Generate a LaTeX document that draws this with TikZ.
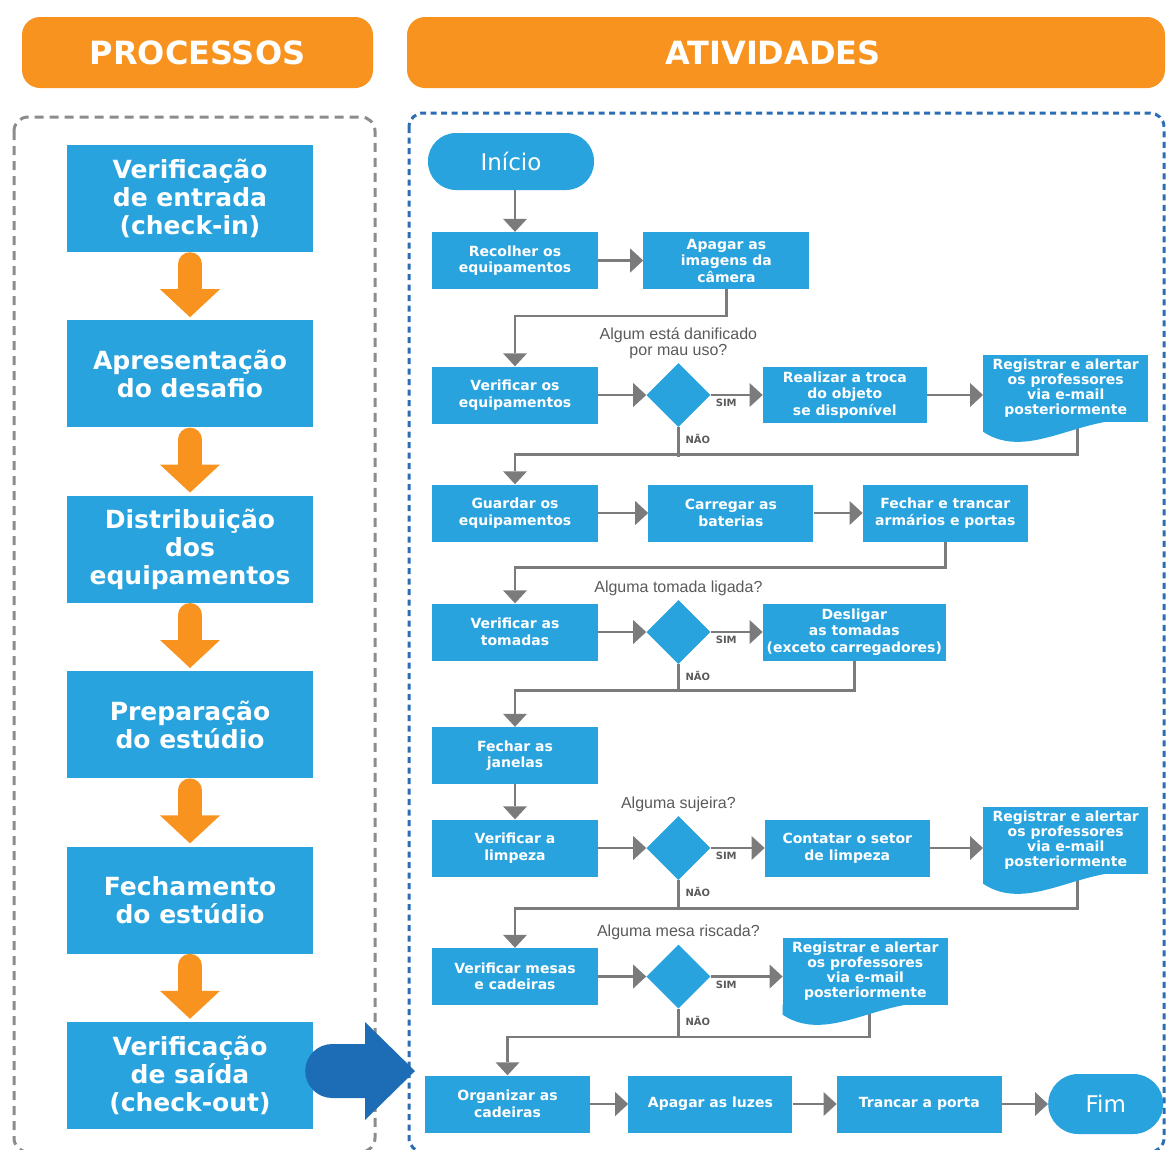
\documentclass[tikz,border=0pt]{standalone}
\usepackage{fontspec}
\setmainfont{DejaVu Sans}
\newfontfamily\qfont{Liberation Sans}
\usetikzlibrary{positioning}
\usetikzlibrary{shapes}
\usetikzlibrary{arrows.meta}
\usetikzlibrary{backgrounds}

\definecolor{boxblue}{HTML}{29A3DE}
\definecolor{darkblue}{HTML}{1D6CB6}
\definecolor{orng}{HTML}{F7931E}
\definecolor{lgrey}{HTML}{7B7B7B}
\definecolor{fgrey}{HTML}{8C8C8C}
\definecolor{fblue}{HTML}{2C6DB3}
\definecolor{tgrey}{HTML}{5A5A5A}

% wavy bottom of the document shapes
\newcommand{\docwave}[1]{%
  \fill[boxblue] (#1.south west) -- ([yshift=-10pt]#1.south west)
    .. controls ([xshift=48pt,yshift=-42pt]#1.south west) and ([xshift=-62pt,yshift=13pt]#1.south east) .. (#1.south east) -- cycle;}

\begin{document}
\begin{tikzpicture}[x=1pt, y=-1pt,
		hd/.style={fill=orng, rounded corners=18pt, text=white, minimum height=71pt, inner sep=0pt, font=\bfseries\fontsize{32}{36}\selectfont},
		proc/.style={fill=boxblue, text=white, align=center, minimum width=246pt, minimum height=107pt, inner sep=0pt, font=\bfseries\fontsize{25}{28}\selectfont},
		box/.style={fill=boxblue, text=white, align=center, minimum width=166pt, minimum height=57pt, inner sep=0pt, font=\bfseries\fontsize{14}{16.5}\selectfont},
		term/.style={box, rounded corners=28pt, font=\fontsize{23}{26}\selectfont},
		dec/.style={diamond, fill=boxblue, minimum width=64pt, minimum height=64pt, inner sep=0pt},
		doc/.style={box, minimum width=165pt, minimum height=67pt, font=\bfseries\fontsize{14}{15}\selectfont},
		lbl/.style={text=tgrey, align=center, inner sep=1pt, font=\qfont\fontsize{16}{15.5}\selectfont},
		yn/.style={text=tgrey, inner sep=1pt, font=\bfseries\fontsize{10}{12}\selectfont},
		ln/.style={draw=lgrey, line width=2.5pt},
		a/.style={ln, -{Triangle[length=13pt,width=24pt,line width=0pt]}},
		oa/.style={orng, line width=24pt, line cap=round, -{Triangle[length=28pt,width=60pt,line width=0pt]}},
	]
		\useasboundingbox (0,0) rectangle (1166,1149);
		\clip (0,0) rectangle (1166,1149);

		% frames and headers
		\draw[fgrey, line width=3pt, dash pattern=on 9pt off 6pt, rounded corners=14pt] (14,117) rectangle (375,1152);
		\draw[fblue, line width=3pt, dash pattern=on 6pt off 4.5pt, rounded corners=14pt] (409,113) rectangle (1164,1152);
		\node[hd, minimum width=351pt] (hproc) at (197.5,52.5) {PROCESSOS};
		\node[hd, minimum width=758pt] (hativ) at (786,52.5) {ATIVIDADES\hspace*{26pt}};

		% processes
		\node[proc] (p1) at (190,198.5) {Verificação\\de entrada\\(check-in)};
		\node[proc, below=68pt of p1] (p2) {Apresentação\\do desafio};
		\node[proc, below=68pt of p2] (p3) {Distribuição\\dos\\equipamentos};
		\node[proc, below=68pt of p3] (p4) {Preparação\\do estúdio};
		\node[proc, below=68pt of p4] (p5) {Fechamento\\do estúdio};
		\node[proc, below=68pt of p5] (p6) {Verificação\\de saída\\(check-out)};

		\foreach \i/\j in {p1/p2,p2/p3,p3/p4,p4/p5,p5/p6}
			\draw[oa] ([yshift=-12pt]\i.south) -- ([yshift=3pt]\j.north);

		\coordinate (entry) at (415,1071);
		\draw[darkblue, line width=54pt, line cap=round, -{Triangle[length=50pt,width=98pt,line width=0pt]}] ([xshift=19pt,yshift=4.5pt]p6.east) -- (entry);

		% activities
		\node[term] (ini) at (511,161.5) {Início};
		\node[box] (recolher) at (515,260.5) {Recolher os\\equipamentos};
		\node[box, right=45pt of recolher] (apagar) {Apagar as\\imagens da\\câmera};

		\node[box] (verif) at (515,395) {Verificar os\\equipamentos};
		\node[dec, right=48pt of verif] (d1) {};
		\node[box, right=52pt of d1, minimum width=164pt, minimum height=56pt] (troca) {Realizar a troca\\do objeto\\se disponível};
		\node[doc, right=56pt of troca, yshift=7pt] (reg1) {Registrar e alertar\\os professores\\via e-mail\\posteriormente};
		\docwave{reg1}
		\node[lbl, above=3pt of d1] (q1) {Algum está danificado\\por mau uso?};
		\node[yn, below right=3pt and 4pt of d1.east] (sim1) {SIM};
		\node[yn, below right=6pt and 6pt of d1.south] (nao1) {NÃO};

		\node[box] (guardar) at (515,513) {Guardar os\\equipamentos};
		\node[box, right=50pt of guardar, minimum width=165pt] (carregar) {Carregar as\\baterias};
		\node[box, right=49pt of carregar, minimum width=165pt] (fechar) {Fechar e trancar\\armários e portas};

		\node[box] (tomadas) at (515,632) {Verificar as\\tomadas};
		\node[dec, right=48pt of tomadas] (d2) {};
		\node[box, right=52pt of d2, minimum width=183pt] (desligar) {Desligar\\as tomadas\\(exceto carregadores)};
		\node[lbl, above=3pt of d2] (q2) {Alguma tomada ligada?};
		\node[yn, below right=3pt and 4pt of d2.east] (sim2) {SIM};
		\node[yn, below right=6pt and 6pt of d2.south] (nao2) {NÃO};

		\node[box] (janelas) at (515,755.5) {Fechar as\\janelas};

		\node[box] (limpeza) at (515,848) {Verificar a\\limpeza};
		\node[dec, right=48pt of limpeza] (d3) {};
		\node[box, right=54pt of d3, minimum width=165pt] (contatar) {Contatar o setor\\de limpeza};
		\node[doc, right=53pt of contatar, yshift=8pt] (reg2) {Registrar e alertar\\os professores\\via e-mail\\posteriormente};
		\docwave{reg2}
		\node[lbl, above=3pt of d3] (q3) {Alguma sujeira?};
		\node[yn, below right=3pt and 4pt of d3.east] (sim3) {SIM};
		\node[yn, below right=6pt and 6pt of d3.south] (nao3) {NÃO};

		\node[box] (mesas) at (515,976.5) {Verificar mesas\\e cadeiras};
		\node[dec, right=48pt of mesas] (d4) {};
		\node[doc, right=72pt of d4, yshift=5.5pt] (reg3) {Registrar e alertar\\os professores\\via e-mail\\posteriormente};
		\docwave{reg3}
		\node[lbl, above=3pt of d4] (q4) {Alguma mesa riscada?};
		\node[yn, below right=3pt and 4pt of d4.east] (sim4) {SIM};
		\node[yn, below right=6pt and 6pt of d4.south] (nao4) {NÃO};

		\node[box, minimum width=165pt] (organizar) at (507.5,1104) {Organizar as\\cadeiras};
		\node[box, right=38pt of organizar, minimum width=164pt] (luzes) {Apagar as luzes};
		\node[box, right=44pt of luzes, minimum width=165pt] (trancar) {Trancar a porta};
		\node[term, right=46pt of trancar, minimum width=115pt, minimum height=60pt, rounded corners=30pt] (fim) {Fim};

		\begin{scope}[on background layer]
			\draw[a] (recolher.north |- ini.south) -- (recolher.north);
			\draw[a] (recolher) -- (apagar);
			\draw[a] (apagar.south) -- ++(0,27) -| (verif.north);
			\draw[a] (verif) -- (d1);
			\draw[a] (d1) -- (troca);
			\draw[a] (troca) -- (troca -| reg1.west);
			\draw[a] ([xshift=12pt]reg1.south) -- ++(0,33) -| (guardar.north);
			\draw[ln] (d1.south) -- ++(0,30);
			\draw[a] (guardar) -- (carregar);
			\draw[a] (carregar) -- (fechar);
			\draw[a] (fechar.south) -- ++(0,26) -| (tomadas.north);
			\draw[a] (tomadas) -- (d2);
			\draw[a] (d2) -- (desligar);
			\draw[a] (desligar.south) -- ++(0,30) -| (janelas.north);
			\draw[ln] (d2.south) -- ++(0,26.5);
			\draw[a] (janelas) -- (limpeza);
			\draw[a] (limpeza) -- (d3);
			\draw[a] (d3) -- (contatar);
			\draw[a] (contatar) -- (contatar -| reg2.west);
			\draw[a] ([xshift=12pt]reg2.south) -- ++(0,35) -| (mesas.north);
			\draw[ln] (d3.south) -- ++(0,28.5);
			\draw[a] (mesas) -- (d4);
			\draw[a] (d4) -- (d4 -| reg3.west);
			\draw[a] ([xshift=4pt]reg3.south) -- ++(0,32.5) -| (organizar.north);
			\draw[ln] (d4.south) -- ++(0,28.5);
			\draw[a] (organizar) -- (luzes);
			\draw[a] (luzes) -- (trancar);
			\draw[a] (trancar) -- (fim);
		\end{scope}
	\end{tikzpicture}
\end{document}
